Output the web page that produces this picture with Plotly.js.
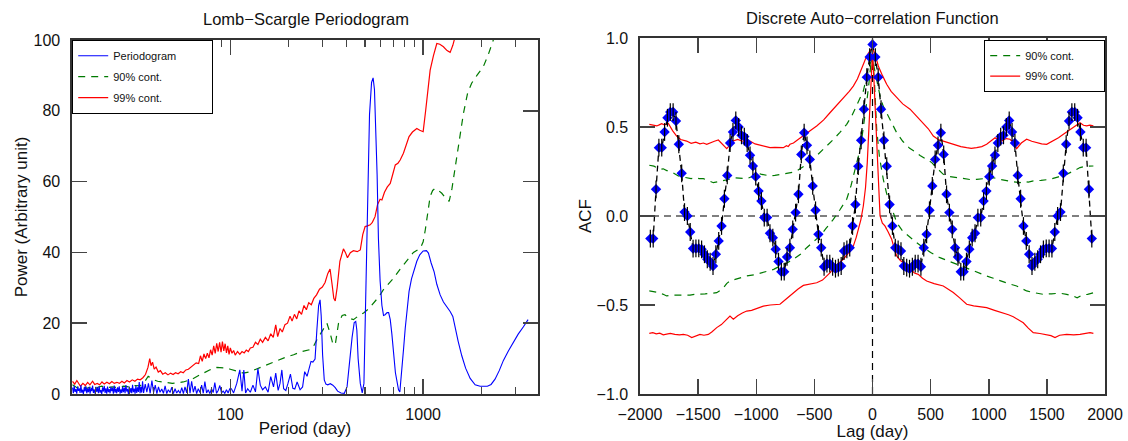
<!DOCTYPE html>
<html><head><meta charset="utf-8">
<script src="https://cdn.plot.ly/plotly-3.0.1.min.js"></script>
<style>html,body{margin:0;padding:0;background:#fff}#chart{width:1128px;height:441px}</style>
</head><body><div id="chart"></div>
<script>
// ---------- Left panel: Lomb-Scargle periodogram ----------
const periodogramPeriod = [15.2,15.35,15.5,15.66,15.82,15.98,16.14,16.3,16.46,16.63,16.8,16.96,17.13,17.3,17.48,17.65,17.83,18.01,18.19,18.37,18.55,18.74,18.93,19.12,19.31,19.5,19.69,19.89,20.09,20.29,20.49,20.7,20.9,21.11,21.32,21.54,21.75,21.97,22.19,22.41,22.63,22.86,23.09,23.32,23.55,23.79,24.03,24.27,24.51,24.75,25.0,25.25,25.51,25.76,26.02,26.28,26.54,26.81,27.08,27.35,27.62,27.9,28.18,28.46,28.74,29.03,29.32,29.61,29.91,30.21,30.51,30.81,31.12,31.43,31.75,32.06,32.38,32.71,33.04,33.37,33.7,34.04,34.38,34.72,35.07,
35.5,36.2,36.9,37.6,38.4,39.2,40.0,40.8,41.6,42.4,43.2,44.1,45.0,45.9,46.8,47.7,48.7,49.7,50.7,51.7,52.7,53.8,54.9,56.0,57.1,58.2,59.4,60.6,61.8,63.0,64.3,65.6,66.9,68.2,69.6,71.0,72.4,73.8,75.3,76.8,78.3,79.9,81.5,83.1,84.8,86.5,88.2,90.0,91.8,93.6,95.5,97.4,99.3,101.3,
104,108,112,115,117.5,120,123,127,131,135,139,143,147,152,157,162,167.5,172,177,181,185,189,194,199,205,211,216,222,230,237,243,250,256,262,268,275,281,287,292,296,301,307,313,320,330,340,350,360,375,390,403,415,428,439,447,453,460,472,483,493,503,515,527,540,550,559,568,577,586,598,611,623,635,650,662,675,688,702,718,732,745,757,766,778,792,807,825,845,870,900,927,960,1000,1040,1065,1100,1140,1177,1225,1274,1330,1380,1425,1465,1520,1586,1660,1753,1860,1974,2060,2153,2250,2359,2480,2607,2770,2937,3110,3311,3500,3730];
const periodogramPower = [1.8,0.2,2.3,0.6,1.4,0.1,2.1,0.9,1.6,0.3,2.5,0.4,1.2,0.0,1.9,0.7,2.2,0.2,1.5,0.5,2.0,0.1,1.7,0.8,2.4,0.3,1.3,0.1,2.0,0.6,1.8,0.2,2.2,0.4,1.1,0.0,1.9,0.7,2.3,0.3,1.6,0.1,2.1,0.5,1.4,0.2,2.0,0.8,1.7,0.1,2.4,0.4,1.5,0.2,1.9,0.6,2.2,0.1,1.3,0.3,2.0,0.5,1.8,0.2,2.5,0.7,1.4,0.0,2.1,0.4,1.7,0.2,2.6,0.5,1.5,0.1,2.3,0.3,1.9,0.6,3.4,0.2,2.0,0.4,3.6,
0.3,2.8,0.5,3.0,0.2,3.8,0.4,2.5,0.1,2.0,0.5,1.4,0.2,2.3,0.1,1.2,0.4,1.9,0.1,1.5,0.3,1.0,0.2,1.8,0.1,2.0,0.3,4.2,0.2,3.6,0.5,2.2,0.1,1.5,0.4,2.5,0.2,3.5,0.3,1.2,0.1,1.5,0.4,3.2,0.2,1.0,2.4,0.3,0.8,0.2,1.2,0.3,1.5,
1.5,0.3,3.0,6.8,0.8,6.8,0.3,1.5,0.5,2.5,0.6,7.2,2.5,1.2,2.0,0.5,4.9,2.0,5.9,1.0,3.0,6.8,1.5,1.0,3.0,5.6,1.6,1.4,3.4,1.2,2.0,6.3,5.0,7.5,9.2,9.0,9.9,18,25,26.6,22,11,4.0,2.8,2.6,2.9,2.5,1.8,0.8,0.3,0.2,2.0,9,16,20.2,20.5,18,10,3,0.3,3,27,57,79,88,89.3,86,75,62,44,32,25,22.2,22.4,23,23,21,17,11,6,3.5,1.2,0.6,4.5,9,13,18.5,24,29,32.5,35,37.5,39.3,40.4,40.5,39.8,37,34.5,31,28,26,24.7,23.3,21.9,18.5,14.8,10.8,7.3,4.4,2.6,2.2,2.1,2.2,2.7,4.2,6.6,9.5,12.2,14.8,16.9,19,21];

const conf99Period = [15.2,15.6,16.0,16.4,16.7,17.2,17.7,18.2,18.7,19.3,19.8,20.4,21,21.6,22.2,22.9,23.6,24.3,25,25.8,26.6,27.4,28.2,29.1,30,31,32,33,34.1,35.2,36.3,37.4,38.2,38.8,39.5,40.3,41.2,42.3,43.4,44.6,46,47.5,49,50.5,52,53.6,55.3,57,58.8,60.6,62.5,64.6,66.5,68.5,70,71.5,73,74.5,76,77.5,79,80.5,82,83.5,85,86.5,88,89.5,91,92.5,94,95.5,97,98.5,100,102,104,106,109,112,115,118,121,124,127,131,135,139,143,147,152,157,162,167,172,176,181,186,192,198,204,209,215,221,227,234,241,248,255,263,271,280,290,300,310,320,329,337,344,350,358,370,386,395,405,419,435,455,472,486,500,515,531,545,563,580,598,611,630,652,675,695,717,740,760,790,820,845,880,927,960,1000,1030,1060,1087,1130,1177,1220,1274,1330,1380,1425,1465,1550];
const conf99Power = [3.6,2.8,3.8,2.6,2.2,3.0,2.4,3.3,2.6,3.6,2.7,3.0,2.6,3.4,2.8,3.3,2.9,3.5,3.0,3.3,3.0,3.6,3.1,3.8,3.4,4.0,3.6,4.2,4.0,4.6,5.5,7.5,10,8.0,9.0,7.0,7.6,6.2,6.6,5.6,6.0,5.4,5.9,5.5,6.0,5.7,6.3,6.0,6.8,7.0,7.6,8.0,8.8,8.6,10.8,9.2,11.3,10.0,11.5,10.2,12.5,11.0,13.6,11.5,14.3,12.0,14.6,11.8,14.8,12.2,14.2,11.6,13.6,11.2,13.0,11.5,12.3,11.0,12.0,11.2,12.0,11.6,12.4,12.0,13.0,13.2,14.6,14.0,15.5,14.6,16.0,15.0,17.0,16.0,19.5,16.2,18.5,17.5,19.6,20.0,22.0,20.6,22.5,21.2,23.5,22.5,25.0,23.8,25.8,25.2,27.0,28.0,29.6,30.2,31.5,34.0,35.3,31.0,27.0,26.3,30.0,37.5,41.0,40.0,38.5,39.9,40.5,40.2,40.7,45,47.3,47.5,47.8,48.5,50.1,53.5,55,54.8,57,58.5,59.5,62,64.7,65.2,66.1,68,71,72.7,74.0,75,74.5,74.1,80,87,91.5,95.5,99,98.8,98.1,97,96.5,98.5,100.9,106];

const conf90Period = [15.2,16,17,18,19,20,21.5,23,24.5,26,28,30,32,34,36,37.5,38.7,40,42,44,47,50,53,57,61,65,70,75,79,85,90,95.5,100,107,117,125,133,143,155,171,190,213,235,257,270,281,300,317,330,340,350,357,364,380,393,410,435,460,491,520,553,590,621,660,702,760,826,890,968,1000,1026,1060,1087,1120,1152,1200,1249,1300,1364,1410,1465,1540,1618,1700,1784,1900,2052,2180,2315,2450];
const conf90Power = [2.6,1.8,2.3,1.6,2.0,1.7,2.2,1.8,2.0,1.8,2.2,2.0,2.4,2.3,3.5,5.0,4.5,4.0,3.6,3.4,3.2,3.0,3.1,3.4,3.9,4.5,5.5,6.3,6.9,7.5,7.5,7.3,7.0,6.5,5.9,6.2,6.8,7.3,8.2,9.2,10.2,11.1,12.0,12.5,13.5,15.3,18.0,20.0,17.0,14.2,13.9,17.0,20.0,22.2,22.4,21.5,21.0,22.0,22.9,24.0,25.7,27.5,29.4,31.0,32.7,35.3,37.9,40.0,41.2,43.0,46.4,52,55.8,57.5,58.1,57.5,56.7,55.5,54.4,58,64.2,72,79.3,85,87.8,90,92.5,96,100,104];

const periodRange = [15.1, 3940];
const periodMajorTicks = [100, 1000];
const periodMinorTicks = [20,30,40,50,60,70,80,90,200,300,400,500,600,700,800,900,2000,3000];
const powerRange = [0, 100];
const powerTicks = [0, 20, 40, 60, 80, 100];

// ---------- Right panel: discrete auto-correlation function ----------
const acfLag = [-1911,-1886.5,-1862,-1837.5,-1813,-1788.5,-1764,-1739.5,-1715,-1690.5,-1666,-1641.5,-1617,-1592.5,-1568,-1543.5,-1519,-1494.5,-1470,-1445.5,-1421,-1396.5,-1372,-1347.5,-1323,-1298.5,-1274,-1249.5,-1225,-1200.5,-1176,-1151.5,-1127,-1102.5,-1078,-1053.5,-1029,-1004.5,-980,-955.5,-931,-906.5,-882,-857.5,-833,-808.5,-784,-759.5,-735,-710.5,-686,-661.5,-637,-612.5,-588,-563.5,-539,-514.5,-490,-465.5,-441,-416.5,-392,-367.5,-343,-318.5,-294,-269.5,-245,-220.5,-196,-171.5,-147,-122.5,-98,-73.5,-49,-24.5,
0,24.5,49,73.5,98,122.5,147,171.5,196,220.5,245,269.5,294,318.5,343,367.5,392,416.5,441,465.5,490,514.5,539,563.5,588,612.5,637,661.5,686,710.5,735,759.5,784,808.5,833,857.5,882,906.5,931,955.5,980,1004.5,1029,1053.5,1078,1102.5,1127,1151.5,1176,1200.5,1225,1249.5,1274,1298.5,1323,1347.5,1372,1396.5,1421,1445.5,1470,1494.5,1519,1543.5,1568,1592.5,1617,1641.5,1666,1690.5,1715,1739.5,1764,1788.5,1813,1837.5,1862,1886.5];
const acfValue = [-0.127,-0.127,0.15,0.384,0.384,0.472,0.552,0.584,0.584,0.534,0.403,0.24,0.022,0.0,-0.09,-0.183,-0.182,-0.182,-0.187,-0.215,-0.243,-0.257,-0.281,-0.215,-0.14,-0.056,0.097,0.228,0.41,0.472,0.537,0.5,0.453,0.446,0.41,0.341,0.281,0.221,0.14,0.084,-0.009,-0.009,-0.097,-0.122,-0.187,-0.256,-0.313,-0.313,-0.23,-0.178,-0.075,0.019,0.122,0.346,0.468,0.397,0.318,0.169,0.032,-0.103,-0.178,-0.285,-0.268,-0.268,-0.285,-0.296,-0.29,-0.281,-0.197,-0.187,-0.178,-0.056,0.065,0.28,0.425,0.60,0.78,0.893,
0.964,0.893,0.78,0.60,0.425,0.28,0.065,-0.056,-0.178,-0.187,-0.197,-0.281,-0.29,-0.296,-0.285,-0.268,-0.268,-0.285,-0.178,-0.103,0.032,0.169,0.318,0.397,0.468,0.346,0.122,0.019,-0.075,-0.178,-0.23,-0.313,-0.313,-0.256,-0.187,-0.122,-0.097,-0.009,-0.009,0.084,0.14,0.221,0.281,0.341,0.41,0.446,0.453,0.5,0.537,0.472,0.41,0.228,0.097,-0.056,-0.14,-0.215,-0.281,-0.257,-0.243,-0.215,-0.187,-0.182,-0.182,-0.183,-0.09,0.0,0.022,0.24,0.403,0.534,0.584,0.584,0.552,0.472,0.384,0.384,0.15,-0.127];
const acfError = 0.05;

const acf99UpperLag = [-1920,-1880,-1856,-1835,-1814,-1790,-1756,-1720,-1685,-1650,-1620,-1599,-1560,-1520,-1484,-1455,-1426,-1390,-1360,-1326,-1290,-1254,-1225,-1197,-1160,-1120,-1090,-1054,-1010,-968,-925,-882,-840,-800,-767,-740,-725,-710,-680,-640,-595,-540,-480,-420,-366,-310,-251,-200,-165,-130,-108,-75,-50,-25,0,25,50,85,122,160,208,260,323,380,437,480,523,565,609,660,710,760,810,850,896,940,982,1020,1054,1080,1111,1150,1183,1215,1240,1280,1326,1370,1412,1455,1498,1530,1556,1600,1642,1690,1728,1760,1785,1815,1842,1870,1900];
const acf99UpperValue = [0.515,0.508,0.506,0.512,0.519,0.512,0.52,0.48,0.449,0.43,0.425,0.421,0.408,0.415,0.405,0.41,0.403,0.41,0.42,0.427,0.40,0.378,0.40,0.421,0.43,0.42,0.425,0.421,0.405,0.397,0.39,0.384,0.385,0.383,0.384,0.395,0.39,0.403,0.41,0.43,0.453,0.477,0.506,0.54,0.58,0.62,0.665,0.70,0.73,0.77,0.805,0.855,0.899,0.925,0.946,0.9,0.843,0.79,0.74,0.70,0.665,0.63,0.6,0.56,0.524,0.49,0.449,0.43,0.421,0.41,0.403,0.39,0.384,0.38,0.384,0.39,0.403,0.42,0.44,0.428,0.421,0.435,0.431,0.41,0.378,0.41,0.431,0.42,0.412,0.405,0.403,0.415,0.421,0.44,0.459,0.48,0.496,0.51,0.524,0.51,0.506,0.51,0.506];
const acf99LowerLag = [-1920,-1890,-1860,-1830,-1800,-1771,-1740,-1700,-1660,-1627,-1590,-1555,-1520,-1484,-1450,-1412,-1380,-1340,-1300,-1260,-1226,-1197,-1160,-1120,-1082,-1040,-1000,-939,-880,-830,-796,-740,-681,-640,-595,-540,-480,-430,-394,-360,-337,-300,-251,-210,-165,-140,-122,-100,-79,-60,-45,-30,-21,-10,0,10,22,36,50,65,85,107,135,165,190,208,240,265,300,330,360,394,430,466,530,609,650,695,750,810,870,930,982,1050,1125,1170,1211,1250,1297,1340,1383,1440,1498,1535,1570,1610,1670,1730,1785,1830,1871,1900];
const acf99LowerValue = [-0.659,-0.655,-0.662,-0.658,-0.668,-0.665,-0.66,-0.665,-0.668,-0.665,-0.67,-0.683,-0.672,-0.665,-0.67,-0.665,-0.65,-0.627,-0.61,-0.585,-0.562,-0.58,-0.56,-0.545,-0.534,-0.53,-0.52,-0.506,-0.50,-0.497,-0.496,-0.465,-0.431,-0.41,-0.39,-0.382,-0.375,-0.36,-0.337,-0.315,-0.29,-0.27,-0.243,-0.21,-0.169,-0.12,-0.075,-0.02,0.056,0.16,0.30,0.50,0.674,0.82,0.92,0.8,0.62,0.487,0.2,0.0,-0.04,-0.056,-0.09,-0.13,-0.19,-0.225,-0.25,-0.262,-0.28,-0.30,-0.32,-0.328,-0.35,-0.365,-0.38,-0.393,-0.41,-0.43,-0.46,-0.496,-0.505,-0.51,-0.515,-0.53,-0.543,-0.555,-0.566,-0.58,-0.6,-0.63,-0.655,-0.66,-0.665,-0.672,-0.683,-0.67,-0.665,-0.668,-0.665,-0.66,-0.655,-0.659];

const acf90UpperLag = [-1920,-1880,-1850,-1828,-1800,-1770,-1742,-1700,-1670,-1640,-1599,-1560,-1520,-1490,-1455,-1410,-1369,-1330,-1283,-1240,-1197,-1150,-1120,-1082,-1040,-996,-960,-920,-882,-840,-800,-767,-720,-690,-652,-610,-566,-510,-451,-400,-337,-280,-222,-180,-136,-110,-79,-55,-36,-18,0,18,40,65,90,122,160,208,260,320,370,409,460,510,560,609,660,724,780,840,896,960,1000,1040,1100,1154,1210,1269,1300,1340,1384,1450,1527,1600,1670,1720,1785,1840,1900];
const acf90UpperValue = [0.285,0.28,0.27,0.262,0.265,0.255,0.253,0.235,0.225,0.22,0.215,0.21,0.215,0.21,0.21,0.2,0.187,0.192,0.197,0.205,0.215,0.212,0.21,0.21,0.22,0.243,0.235,0.228,0.225,0.228,0.232,0.234,0.24,0.245,0.253,0.27,0.29,0.32,0.356,0.39,0.43,0.47,0.515,0.56,0.618,0.66,0.702,0.77,0.824,0.86,0.88,0.82,0.74,0.674,0.62,0.58,0.53,0.468,0.42,0.38,0.36,0.34,0.32,0.3,0.265,0.234,0.222,0.215,0.21,0.205,0.206,0.21,0.205,0.215,0.205,0.197,0.192,0.187,0.195,0.19,0.197,0.2,0.206,0.22,0.234,0.25,0.272,0.28,0.281];
const acf90LowerLag = [-1920,-1880,-1840,-1800,-1771,-1730,-1680,-1627,-1570,-1530,-1484,-1440,-1400,-1340,-1290,-1255,-1226,-1170,-1120,-1082,-1000,-950,-910,-850,-796,-740,-681,-620,-566,-510,-451,-400,-337,-280,-222,-185,-150,-120,-93,-70,-50,-30,-16,0,15,36,60,93,120,150,180,208,260,323,380,437,500,580,640,695,760,839,910,982,1040,1097,1170,1240,1290,1326,1400,1470,1540,1613,1670,1728,1760,1800,1850,1900];
const acf90LowerValue = [-0.421,-0.425,-0.43,-0.44,-0.449,-0.445,-0.445,-0.444,-0.445,-0.44,-0.44,-0.438,-0.435,-0.431,-0.41,-0.38,-0.365,-0.355,-0.345,-0.337,-0.328,-0.318,-0.309,-0.3,-0.281,-0.265,-0.243,-0.215,-0.178,-0.145,-0.112,-0.07,-0.019,0.035,0.094,0.17,0.262,0.34,0.431,0.53,0.637,0.75,0.843,0.88,0.78,0.487,0.33,0.206,0.13,0.075,0.02,-0.037,-0.085,-0.122,-0.15,-0.178,-0.205,-0.234,-0.248,-0.262,-0.28,-0.3,-0.32,-0.337,-0.35,-0.365,-0.38,-0.393,-0.41,-0.421,-0.432,-0.44,-0.437,-0.434,-0.44,-0.449,-0.46,-0.445,-0.44,-0.431];

const lagRange = [-2000, 2000];
const acfRange = [-1, 1];
const lagTicks = [-2000,-1500,-1000,-500,0,500,1000,1500,2000];
const acfTicks = [-1, -0.5, 0, 0.5, 1];
const zeroLineLag = [-2000, 2000];
const zeroLineAcf = [0, 0];
const lagAxisX = [0, 0];
const lagAxisY = [-1, 1];

// ---------- styles ----------
const FONT = 'Liberation Sans, Arial, Helvetica, sans-serif';
const BLUE = '#0000ff', RED = '#ff0000', GREEN = '#007a00';
const TICKC = '#444';
const pad = n => '\u00a0'.repeat(n);   // widens the legend boxes to the reference size

const traces = [
  {x: conf99Period, y: conf99Power, type:'scatter', mode:'lines', name:'99% cont.', legendgroup:'l99',
   line:{color:RED, width:1.2}, xaxis:'x', yaxis:'y', legend:'legend', legendrank:3},
  {x: conf90Period, y: conf90Power, type:'scatter', mode:'lines', name:'90% cont.', legendgroup:'l90',
   line:{color:GREEN, width:1.2, dash:'7px,6px'}, xaxis:'x', yaxis:'y', legend:'legend', legendrank:2},
  {x: periodogramPeriod, y: periodogramPower, type:'scatter', mode:'lines', name:'Periodogram' + pad(10), legendgroup:'lper',
   line:{color:BLUE, width:1.1}, xaxis:'x', yaxis:'y', legend:'legend', legendrank:1},

  {x: zeroLineLag, y: zeroLineAcf, type:'scatter', mode:'lines', showlegend:false,
   line:{color:'#000', width:1.2, dash:'7px,5px'}, xaxis:'x2', yaxis:'y2'},
  {x: lagAxisX, y: lagAxisY, type:'scatter', mode:'lines', showlegend:false,
   line:{color:'#000', width:1.2, dash:'7px,5px'}, xaxis:'x2', yaxis:'y2'},
  {x: acf90UpperLag, y: acf90UpperValue, type:'scatter', mode:'lines', name:'90% cont.' + pad(8), legendgroup:'g90',
   line:{color:GREEN, width:1.2, dash:'7px,6px'}, xaxis:'x2', yaxis:'y2', legend:'legend2', legendrank:1},
  {x: acf90LowerLag, y: acf90LowerValue, type:'scatter', mode:'lines', name:'90% cont.', legendgroup:'g90', showlegend:false,
   line:{color:GREEN, width:1.2, dash:'7px,6px'}, xaxis:'x2', yaxis:'y2', legend:'legend2'},
  {x: acf99UpperLag, y: acf99UpperValue, type:'scatter', mode:'lines', name:'99% cont.' + pad(8), legendgroup:'g99',
   line:{color:RED, width:1.2}, xaxis:'x2', yaxis:'y2', legend:'legend2', legendrank:2},
  {x: acf99LowerLag, y: acf99LowerValue, type:'scatter', mode:'lines', name:'99% cont.', legendgroup:'g99', showlegend:false,
   line:{color:RED, width:1.2}, xaxis:'x2', yaxis:'y2', legend:'legend2'},
  {x: acfLag, y: acfValue, type:'scatter', mode:'lines+markers', name:'ACF', showlegend:false,
   line:{color:'#000', width:1.3, dash:'6px,4px'},
   marker:{symbol:'diamond', size:8, color:BLUE, line:{width:0}}, xaxis:'x2', yaxis:'y2'},
  {x: acfLag, y: acfValue, type:'scatter', mode:'markers', name:'ACF error', showlegend:false,
   marker:{size:2, color:'rgba(0,0,0,0)'},
   error_y:{type:'constant', value:acfError, color:'#000', thickness:1.2, width:0},
   xaxis:'x2', yaxis:'y2'}
];

const axisCommon = {
  showline:true, linecolor:'#333', linewidth:1.6, mirror:'ticks',
  ticks:'inside', ticklen:15, tickwidth:1.5, tickcolor:TICKC,
  showgrid:false, zeroline:false,
  tickfont:{family:FONT, size:16, color:'#111'}
};

const PL = 72, PR = 1105, PT = 38, PB = 394;
const W = PR - PL, H = PB - PT;
const px = v => (v - PL) / W;
const py = v => (PB - v) / H;

const layout = {
  width:1128, height:441,
  margin:{l:PL, r:1128-PR, t:PT, b:441-PB, pad:0},
  paper_bgcolor:'#fff', plot_bgcolor:'#fff',
  font:{family:FONT, color:'#111'},
  hovermode:false,
  showlegend:true,
  xaxis: Object.assign({}, axisCommon, {
    type:'log', domain:[0, px(538)], range:[Math.log10(periodRange[0]), Math.log10(periodRange[1])],
    tickmode:'array', tickvals:periodMajorTicks, ticktext:periodMajorTicks.map(String),
    ticklabelstandoff:5, anchor:'y',
    minor:{tickmode:'array', tickvals:periodMinorTicks, ticks:'inside', ticklen:7, tickwidth:1.3, tickcolor:TICKC, showgrid:false},
    title:{text:'Period (day)', font:{family:FONT, size:17, color:'#111'}, standoff:0}
  }),
  yaxis: Object.assign({}, axisCommon, {
    domain:[0, py(40)], range:powerRange, tickmode:'array', tickvals:powerTicks,
    ticklabelstandoff:7, anchor:'x',
    title:{text:'Power (Arbitrary unit)', font:{family:FONT, size:17, color:'#111'}, standoff:1}
  }),
  xaxis2: Object.assign({}, axisCommon, {
    domain:[px(640), 1], range:lagRange, tickmode:'array', tickvals:lagTicks,
    ticklabelstandoff:5, anchor:'y2',
    title:{text:'Lag (day)', font:{family:FONT, size:17, color:'#111'}, standoff:0}
  }),
  yaxis2: Object.assign({}, axisCommon, {
    domain:[0, 1], range:acfRange, tickmode:'array', tickvals:acfTicks, tickformat:'.1f',
    ticklabelstandoff:7, anchor:'x2',
    title:{text:'ACF', font:{family:FONT, size:17, color:'#111'}, standoff:0}
  }),
  legend:{x:0, y:py(40), xanchor:'left', yanchor:'top', bgcolor:'#fff', bordercolor:'#000', borderwidth:1.2,
    font:{family:FONT, size:11, color:'#111'}, tracegroupgap:2},
  legend2:{x:px(984), y:py(40), xanchor:'left', yanchor:'top', bgcolor:'#fff', bordercolor:'#000', borderwidth:1.2,
    font:{family:FONT, size:11, color:'#111'}, tracegroupgap:1.5},
  annotations:[
    {text:'Lomb\u2212Scargle Periodogram', xref:'paper', yref:'paper', x:px(306), y:py(19),
     xanchor:'center', yanchor:'middle', showarrow:false, font:{family:FONT, size:16.5, color:'#111'}},
    {text:'Discrete Auto\u2212correlation Function', xref:'paper', yref:'paper', x:px(872.5), y:py(18),
     xanchor:'center', yanchor:'middle', showarrow:false, font:{family:FONT, size:16.5, color:'#111'}}
  ]
};

Plotly.newPlot('chart', traces, layout, {displayModeBar:false, staticPlot:true});
</script></body></html>
